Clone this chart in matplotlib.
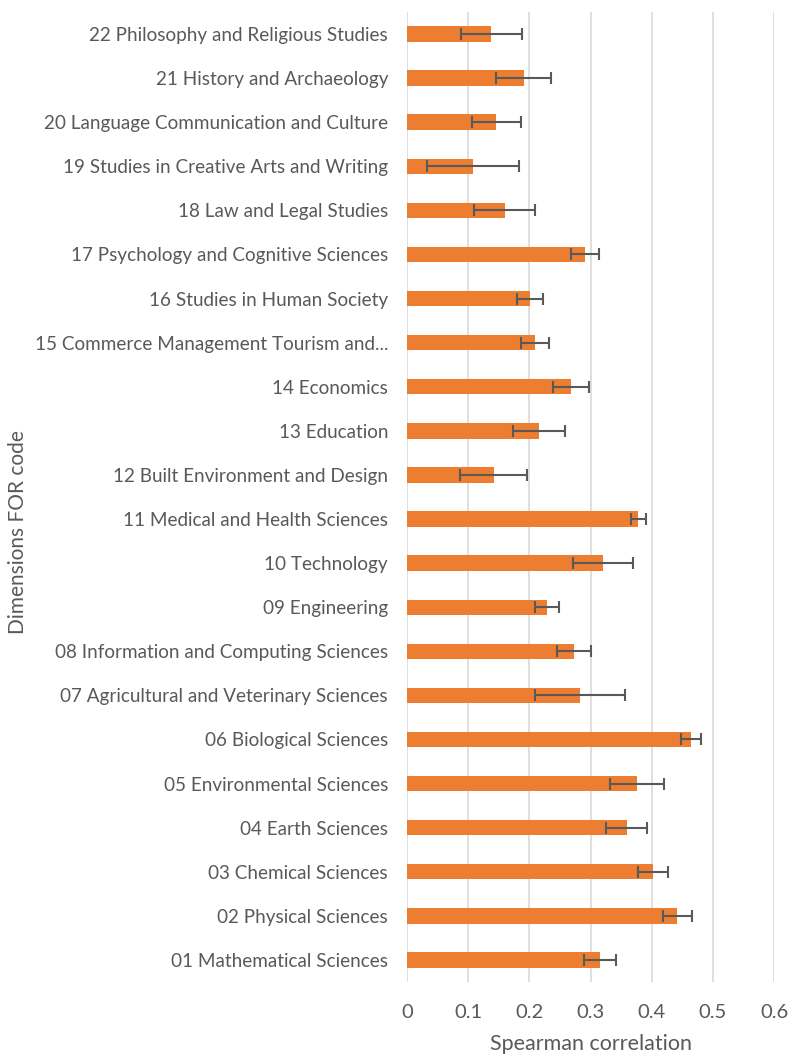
import matplotlib.pyplot as plt
import numpy as np

# Dimensions FOR codes, bottom to top
categories = ["01 Mathematical Sciences", "02 Physical Sciences", "03 Chemical Sciences",
              "04 Earth Sciences", "05 Environmental Sciences", "06 Biological Sciences",
              "07 Agricultural and Veterinary Sciences", "08 Information and Computing Sciences",
              "09 Engineering", "10 Technology", "11 Medical and Health Sciences",
              "12 Built Environment and Design", "13 Education", "14 Economics",
              "15 Commerce Management Tourism and...", "16 Studies in Human Society",
              "17 Psychology and Cognitive Sciences", "18 Law and Legal Studies",
              "19 Studies in Creative Arts and Writing", "20 Language Communication and Culture",
              "21 History and Archaeology", "22 Philosophy and Religious Studies"]
correlation = [0.315, 0.442, 0.402, 0.359, 0.376, 0.464, 0.283, 0.273, 0.229, 0.321, 0.378,
               0.142, 0.216, 0.268, 0.209, 0.201, 0.291, 0.160, 0.108, 0.146, 0.191, 0.138]
errors = [0.026, 0.023, 0.024, 0.034, 0.044, 0.016, 0.074, 0.028, 0.019, 0.049, 0.012,
          0.055, 0.042, 0.029, 0.023, 0.021, 0.023, 0.050, 0.075, 0.040, 0.045, 0.050]
xTicks = [0, 0.1, 0.2, 0.3, 0.4, 0.5, 0.6]
xTickLabels = ["0", "0.1", "0.2", "0.3", "0.4", "0.5", "0.6"]

plt.rcParams['font.family'] = ['Lato', 'DejaVu Sans']
textCol = "#595959"

fig = plt.figure(figsize=(7.9, 10.59), dpi=100)
ax = fig.add_axes([0.515, 0.0727, 0.465, 0.916])

y = np.arange(len(categories))
ax.barh(y, correlation, height=0.35, color="#ED7D31", zorder=2,
        xerr=errors, error_kw=dict(ecolor="#595959", elinewidth=1.5, capsize=4, capthick=1.5))

ax.set_ylim(-0.5, len(categories) - 0.5)
ax.set_xlim(0, 0.6)
ax.set_xticks(xTicks)
ax.set_xticklabels(xTickLabels)
ax.set_yticks(y)
ax.set_yticklabels(categories)
ax.grid(axis="x", color="#d9d9d9", linewidth=1.2, zorder=0)
for s in ax.spines.values():
    s.set_visible(False)
ax.tick_params(axis="both", length=0, colors=textCol)
ax.tick_params(axis="y", pad=13.5, labelsize=13.6)
ax.tick_params(axis="x", pad=15.5, labelsize=14.5)
ax.set_xlabel("Spearman correlation", fontsize=15.5, color=textCol, labelpad=10)
fig.text(0.023, 0.498, "Dimensions FOR code", rotation=90, fontsize=15, color=textCol,
         ha="center", va="center")

plt.savefig("out.png", dpi=100)
